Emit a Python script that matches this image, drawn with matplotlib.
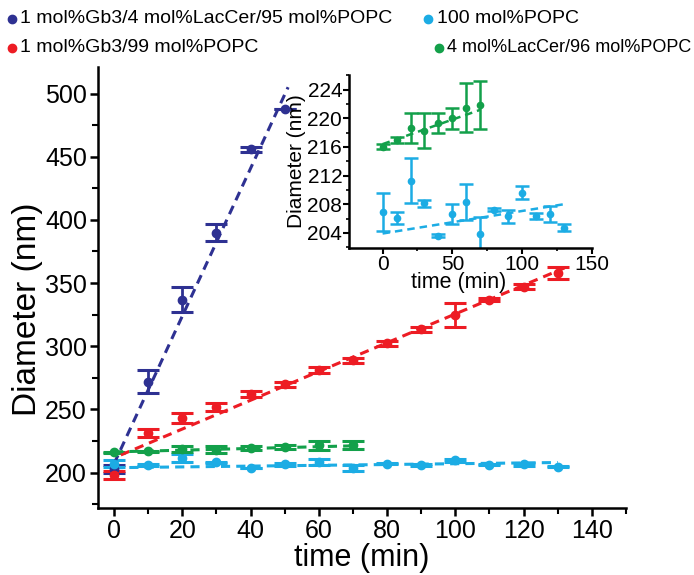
import matplotlib.pyplot as plt
from matplotlib.lines import Line2D
from matplotlib.ticker import MultipleLocator

plt.rcParams['font.family'] = ['Liberation Sans', 'DejaVu Sans']

navy = '#2e3192'
red = '#ed1c24'
green = '#13a04a'
cyan = '#1cace4'

# data
t_navy = [0, 10, 20, 30, 40, 50]
d_navy = [203, 272, 337, 390, 456, 488]
e_navy = [3, 9, 10, 7, 2, 0]

t_red = [0, 10, 20, 30, 40, 50, 60, 70, 80, 90, 100, 110, 120, 130]
d_red = [198, 231.5, 243.5, 252, 262, 270, 281, 289, 302.5, 313.5, 325, 337, 347, 358]
e_red = [3, 3, 4, 3, 2.5, 2, 2.5, 2, 2, 2, 9.5, 1.5, 2, 5]

t_green = [0, 10, 20, 30, 40, 50, 60, 70]
d_green = [216.0, 217.0, 218.7, 218.3, 219.3, 220.0, 221.5, 221.9]
e_green = [0.35, 0.4, 2.1, 2.5, 1.4, 1.5, 3.4, 3.35]

t_cyan = [0, 10, 20, 30, 40, 50, 60, 70, 80, 90, 100, 110, 120, 130]
d_cyan = [206.9, 206.1, 211.3, 208.1, 203.6, 206.6, 208.3, 203.9, 207.2, 206.3, 209.6, 206.3, 206.6, 204.7]
e_cyan = [2.7, 0.8, 3.1, 0.5, 0.2, 1.4, 2.5, 2.3, 0.2, 0.9, 0.9, 0.4, 1.1, 0.5]

# dashed linear fits (end points)
fit_navy = ([0, 51], [207, 505])
fit_red = ([2, 132], [214, 362])
fit_green = ([0, 70], [216.4, 221.2])
fit_cyan = ([0, 130], [203.9, 208.0])

labels = ['1 mol%Gb3/4 mol%LacCer/95 mol%POPC', '1 mol%Gb3/99 mol%POPC',
          '100 mol%POPC', '4 mol%LacCer/96 mol%POPC']

fig = plt.figure(figsize=(6.94, 5.75), dpi=100)
ax = fig.add_axes([0.1412, 0.1165, 0.7608, 0.767])

dash = (0, (3, 2))
for t, d, e, c in [(t_navy, d_navy, e_navy, navy), (t_red, d_red, e_red, red),
                   (t_cyan, d_cyan, e_cyan, cyan), (t_green, d_green, e_green, green)]:
    ax.errorbar(t, d, yerr=e, fmt='o', color=c, ms=6, capsize=8, capthick=2.2,
                elinewidth=2)
for (fx, fy), c in [(fit_navy, navy), (fit_red, red), (fit_cyan, cyan), (fit_green, green)]:
    ax.plot(fx, fy, linestyle=dash, color=c, lw=2.2)

ax.set_xlim(-4.7, 150)
ax.set_ylim(172, 521)
ax.xaxis.set_major_locator(MultipleLocator(20))
ax.xaxis.set_minor_locator(MultipleLocator(10))
ax.yaxis.set_major_locator(MultipleLocator(50))
ax.yaxis.set_minor_locator(MultipleLocator(25))
ax.set_xticks(range(0, 141, 20))
for s in ['top', 'right']:
    ax.spines[s].set_visible(False)
for s in ['left', 'bottom']:
    ax.spines[s].set_linewidth(1.8)
ax.tick_params(which='major', length=6, width=1.8, labelsize=18, pad=2)
ax.tick_params(which='minor', length=4, width=1.5)
ax.set_xlabel('time (min)', fontsize=22, labelpad=0)
ax.set_ylabel('Diameter (nm)', fontsize=24)
ax.yaxis.set_label_coords(-0.104, 0.45)

# inset
ins = fig.add_axes([0.503, 0.569, 0.35, 0.301])
ins.patch.set_alpha(0)
for t, d, e, c in [(t_cyan, d_cyan, e_cyan, cyan), (t_green, d_green, e_green, green)]:
    ins.errorbar(t, d, yerr=e, fmt='o', color=c, ms=4.5, capsize=5, capthick=1.8,
                 elinewidth=1.8)
for (fx, fy), c in [(fit_cyan, cyan), (fit_green, green)]:
    ins.plot(fx, fy, linestyle=dash, color=c, lw=1.8)
ins.set_xlim(-24, 150)
ins.set_ylim(201.9, 226.1)
ins.xaxis.set_major_locator(MultipleLocator(50))
ins.xaxis.set_minor_locator(MultipleLocator(25))
ins.yaxis.set_major_locator(MultipleLocator(4))
ins.yaxis.set_minor_locator(MultipleLocator(2))
ins.set_yticks(range(204, 225, 4))
for s in ['top', 'right']:
    ins.spines[s].set_visible(False)
for s in ['left', 'bottom']:
    ins.spines[s].set_linewidth(1.8)
ins.tick_params(which='major', length=4, width=1.5, labelsize=15, pad=1)
ins.tick_params(which='minor', length=2.5, width=1.2)
ins.set_xlabel('time (min)', fontsize=15.5)
ins.xaxis.set_label_coords(0.45, -0.14)
ins.set_ylabel('Diameter (nm)', fontsize=15, labelpad=1)

# legend at the top
leg_pos = [(0.017, 0.967), (0.017, 0.917), (0.617, 0.967), (0.632, 0.917)]
leg_size = [14, 14, 14, 13]
for (x, y), lab, c, fs in zip(leg_pos, labels, [navy, red, cyan, green], leg_size):
    fig.add_artist(Line2D([x], [y], marker='o', ms=6, color=c, transform=fig.transFigure))
    fig.text(x + 0.012, y, lab, fontsize=fs, va='center', ha='left')

fig.savefig('out.png', dpi=100)
